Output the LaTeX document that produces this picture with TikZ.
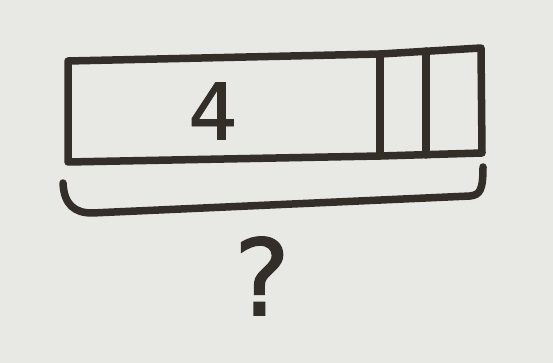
\documentclass[tikz,border=0pt]{standalone}
\usepackage{fontspec}
\newfontfamily\handfont[FakeBold=1.2]{DejaVu Sans}
\definecolor{board}{RGB}{232,232,229}
\definecolor{marker}{RGB}{52,46,40}
\tikzset{
  pen/.style={draw=marker, line width=7.5pt, line cap=round, line join=round},
  handtext/.style={text=marker, font=\handfont, inner sep=0pt}
}
\begin{document}
\begin{tikzpicture}[x=1pt,y=-1pt]
  \fill[board] (0,0) rectangle (553,363);
  \useasboundingbox (0,0) rectangle (553,363);
  % box corners
  \coordinate (tl) at (68,61);
  \coordinate (tr) at (481,48);
  \coordinate (br) at (482,153);
  \coordinate (bl) at (68,162);
  \coordinate (d1t) at (380,54);
  \coordinate (d1b) at (380,156);
  \coordinate (d2t) at (426,51);
  \coordinate (d2b) at (426,155);
  % outer box
  \draw[pen] (tl) -- (d1t) -- (tr) -- (br) -- (d1b) -- (bl) -- cycle;
  % dividers
  \draw[pen] (d1t) -- (d1b);
  \draw[pen] (d2t) -- (d2b);
  % bracket
  \coordinate (bkl) at (63,183);
  \coordinate (bkbl) at (92,213);
  \coordinate (bkbr) at (470,196);
  \coordinate (bkr) at (483,167);
  \draw[pen] (bkl) .. controls (64,205) and (75,213) .. (bkbl)
    -- (bkbr) .. controls (480,195) and (483,190) .. (bkr);
  % labels
  \node[handtext, font=\handfont\fontsize{78}{78}\selectfont] (four) at (213,111) {4};
  \node[handtext, font=\handfont\fontsize{106}{106}\selectfont] (q) at (262,276) {?};
\end{tikzpicture}
\end{document}
